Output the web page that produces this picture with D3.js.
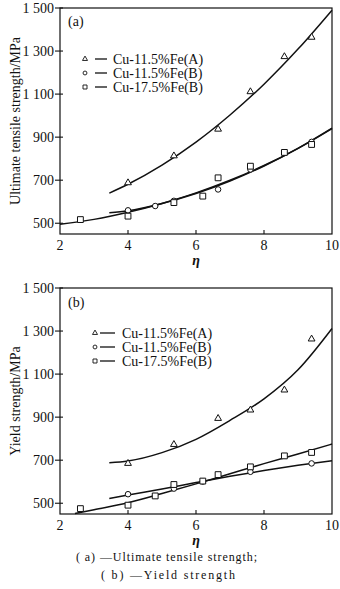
<!DOCTYPE html>
<html>
<head>
<meta charset="utf-8">
<script src="https://cdn.jsdelivr.net/npm/d3@7/dist/d3.min.js"></script>
<style>
  html, body { margin: 0; padding: 0; background: #fff; }
  svg { display: block; }
  text { font-family: "Liberation Serif", "DejaVu Serif", serif; fill: #111; }
</style>
</head>
<body>
<svg id="chart" width="340" height="589"></svg>
<script>
// ---- data ----
const etaTicks = [2, 4, 6, 8, 10];
const strengthTicks = [500, 700, 900, 1100, 1300, 1500];
const seriesNames = ["Cu-11.5%Fe(A)", "Cu-11.5%Fe(B)", "Cu-17.5%Fe(B)"];
const seriesSymbols = ["triangle", "circle", "square"];

// (a) ultimate tensile strength, measured
const utsEtaA = [4.0, 5.35, 6.65, 7.6, 8.6, 9.4];
const utsA    = [688, 813, 937, 1111, 1274, 1364];
const utsEtaB = [4.0, 4.8, 5.35, 6.65, 7.6, 9.4];
const utsB    = [560, 580, 604, 657, 750, 878];
const utsEtaC = [2.6, 4.0, 5.35, 6.2, 6.65, 7.6, 8.6, 9.4];
const utsC    = [517, 533, 596, 626, 711, 765, 829, 866];

// (a) fitted curves
const utsFitEtaA = [3.45, 4, 5, 6, 7, 8, 9, 10];
const utsFitA    = [640, 681, 770, 877, 1003, 1146, 1309, 1490];
const utsFitEtaB = [3.45, 4, 5, 6, 7, 8, 9, 10];
const utsFitB    = [549, 558, 592, 638, 696, 766, 848, 942];
const utsFitEtaC = [2, 3, 4, 5, 6, 7, 8, 9, 10];
const utsFitC    = [495, 518, 551, 592, 641, 700, 768, 848, 940];

// (b) yield strength, measured
const ysEtaA = [4.0, 5.35, 6.65, 7.6, 8.6, 9.4];
const ysA    = [685, 773, 894, 933, 1026, 1263];
const ysEtaB = [4.0, 5.35, 6.2, 7.6, 9.4];
const ysB    = [542, 568, 601, 646, 685];
const ysEtaC = [2.6, 4.0, 4.8, 5.35, 6.2, 6.65, 7.6, 8.6, 9.4];
const ysC    = [475, 491, 534, 587, 603, 633, 669, 720, 736];

// (b) fitted curves
const ysFitEtaA = [3.45, 4, 5, 6, 7, 8, 9, 10];
const ysFitA    = [688, 696, 735, 797, 885, 985, 1120, 1312];
const ysFitEtaB = [3.45, 4, 5, 6, 7, 8, 9, 10];
const ysFitB    = [522, 538, 566, 596, 625, 652, 676, 697];
const ysFitEtaC = [2.44, 3, 4, 5, 6, 7, 8, 9, 10];
const ysFitC    = [452, 470, 502, 545, 590, 637, 684, 729, 775];

const zip = (xs, ys) => xs.map((x, i) => [x, ys[i]]);

const panels = [
  {
    tag: "(a)", top: 8, bottom: 234,
    yLabel: "Ultimate tensile strength/MPa",
    points: [zip(utsEtaA, utsA), zip(utsEtaB, utsB), zip(utsEtaC, utsC)],
    fits: [zip(utsFitEtaA, utsFitA), zip(utsFitEtaB, utsFitB), zip(utsFitEtaC, utsFitC)],
    legend: { y0: 59, dy: 14, mx: 85, lx0: 95, lx1: 107, tx: 113 },
    tagPos: [68, 26]
  },
  {
    tag: "(b)", top: 288, bottom: 514,
    yLabel: "Yield strength/MPa",
    points: [zip(ysEtaA, ysA), zip(ysEtaB, ysB), zip(ysEtaC, ysC)],
    fits: [zip(ysFitEtaA, ysFitA), zip(ysFitEtaB, ysFitB), zip(ysFitEtaC, ysFitC)],
    legend: { y0: 333, dy: 14, mx: 95, lx0: 100, lx1: 115, tx: 122 },
    tagPos: [68, 307]
  }
];

const svg = d3.select("#chart");
const left = 60, right = 332;
const x = d3.scaleLinear().domain([2, 10]).range([left, right]);
const fmt = v => d3.format(",")(v).replace(",", " ");

const symbolOf = { triangle: d3.symbolTriangle, circle: d3.symbolCircle, square: d3.symbolSquare };
const sizeOf = { triangle: 20, circle: 24, square: 34 };
const legendSizeOf = { triangle: 11, circle: 12, square: 16 };

panels.forEach(p => {
  const y = d3.scaleLinear().domain([450, 1500]).range([p.bottom, p.top]);
  const g = svg.append("g");

  // frame
  g.append("rect")
    .attr("x", left).attr("y", p.top)
    .attr("width", right - left).attr("height", p.bottom - p.top)
    .attr("fill", "none").attr("stroke", "#111").attr("stroke-width", 1.2);

  // y ticks (crossing the left edge) and labels
  strengthTicks.forEach(t => {
    g.append("line")
      .attr("x1", left - 5).attr("x2", left + 3)
      .attr("y1", y(t)).attr("y2", y(t))
      .attr("stroke", "#111").attr("stroke-width", 1.1);
    g.append("text")
      .attr("x", left - 6).attr("y", y(t) + 5)
      .attr("text-anchor", "end").attr("font-size", 14)
      .text(fmt(t));
  });

  // x ticks (inward) and labels
  etaTicks.forEach(t => {
    if (t > 2 && t < 10) {
      g.append("line")
        .attr("x1", x(t)).attr("x2", x(t))
        .attr("y1", p.bottom).attr("y2", p.bottom - 4)
        .attr("stroke", "#111").attr("stroke-width", 1.1);
    }
    g.append("text")
      .attr("x", x(t)).attr("y", p.bottom + 16)
      .attr("text-anchor", "middle").attr("font-size", 14)
      .text(t);
  });

  // axis titles
  g.append("text")
    .attr("x", x(6)).attr("y", p.bottom + 31)
    .attr("text-anchor", "middle").attr("font-size", 14)
    .attr("font-style", "italic").attr("font-weight", "bold")
    .text("η");
  g.append("text")
    .attr("transform", `translate(20,${(p.top + p.bottom) / 2}) rotate(-90)`)
    .attr("text-anchor", "middle").attr("font-size", 14)
    .text(p.yLabel);

  // panel tag
  g.append("text")
    .attr("x", p.tagPos[0]).attr("y", p.tagPos[1])
    .attr("font-size", 14).text(p.tag);

  // fitted curves
  const line = d3.line().x(d => x(d[0])).y(d => y(d[1])).curve(d3.curveMonotoneX);
  p.fits.forEach(f => {
    g.append("path").attr("d", line(f))
      .attr("fill", "none").attr("stroke", "#111").attr("stroke-width", 1.5);
  });

  // measured points
  p.points.forEach((pts, i) => {
    const s = seriesSymbols[i];
    g.selectAll(null).data(pts).enter().append("path")
      .attr("transform", d => `translate(${x(d[0])},${y(d[1])})`)
      .attr("d", d3.symbol().type(symbolOf[s]).size(sizeOf[s]))
      .attr("fill", "#fff").attr("stroke", "#111").attr("stroke-width", 1);
  });

  // legend
  const L = p.legend;
  seriesNames.forEach((name, i) => {
    const ly = L.y0 + i * L.dy;
    const s = seriesSymbols[i];
    g.append("path")
      .attr("transform", `translate(${L.mx},${ly})`)
      .attr("d", d3.symbol().type(symbolOf[s]).size(legendSizeOf[s]))
      .attr("fill", "#fff").attr("stroke", "#111").attr("stroke-width", 0.9);
    g.append("line")
      .attr("x1", L.lx0).attr("x2", L.lx1).attr("y1", ly).attr("y2", ly)
      .attr("stroke", "#111").attr("stroke-width", 1.3);
    g.append("text")
      .attr("x", L.tx).attr("y", ly + 5)
      .attr("font-size", 14).text(name);
  });
});

// caption
svg.append("text")
  .attr("x", 76).attr("y", 561).attr("font-size", 12)
  .attr("textLength", 181).attr("lengthAdjust", "spacing")
  .text("( a) —Ultimate tensile strength;");
svg.append("text")
  .attr("x", 101).attr("y", 579).attr("font-size", 12)
  .attr("textLength", 134).attr("lengthAdjust", "spacing")
  .text("( b) —Yield strength");
</script>
</body>
</html>
